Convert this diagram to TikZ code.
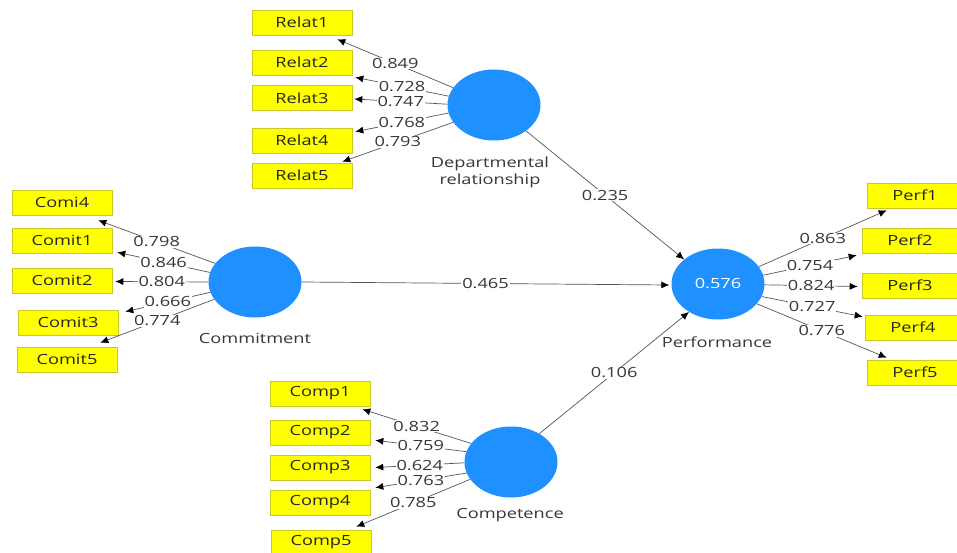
\documentclass[tikz,border=0pt]{standalone}
\usepackage{fontspec}
\setmainfont[FakeStretch=1.3]{Open Sans}
\usetikzlibrary{shapes.geometric,arrows.meta}
\definecolor{lvblue}{RGB}{30,144,255}
\definecolor{indyellow}{RGB}{255,255,0}
\definecolor{indborder}{RGB}{200,200,40}
\definecolor{txt}{RGB}{55,55,55}
\definecolor{lin}{RGB}{85,85,85}
\begin{document}
\begin{tikzpicture}[x=1pt,y=-1pt,
  indbox/.style={rectangle,fill=indyellow,draw=indborder,line width=0.6pt,minimum width=100pt,minimum height=25pt,inner sep=0pt,font=\fontsize{14}{16}\selectfont,text=black!85},
  latent/.style={ellipse,fill=lvblue,draw=none,minimum width=93pt,minimum height=71pt,inner sep=0pt,font=\fontsize{14}{16}\selectfont,text=white},
  lvlabel/.style={font=\fontsize{14}{17}\selectfont,text=txt,align=center,inner sep=0pt},
  ldg/.style={fill=white,inner sep=0.8pt,font=\fontsize{14}{16}\selectfont,text=txt},
  arr/.style={draw=lin,line width=0.7pt,-{Latex[length=8pt,width=7pt,color=black]}}]
\useasboundingbox (0,0) rectangle (957,553);
\clip (0,0) rectangle (957,553);
\fill[white] (0,0) rectangle (957,553);

% latent variables
\node[latent] (dr) at (494,105) {};
\node[latent] (cm) at (255,282) {};
\node[latent] (cp) at (511,462) {};
\node[latent] (pf) at (718,284) {0.576};

\node[lvlabel] (drl) at (490,172) {Departmental\\relationship};
\node[lvlabel] (cml) at (255,338) {Commitment};
\node[lvlabel] (cpl) at (510,515) {Competence};
\node[lvlabel] (pfl) at (717,342) {Performance};

% indicators
\node[indbox] (r1) at (302,22.5) {Relat1};
\node[indbox] (r2) at (302,62.5) {Relat2};
\node[indbox] (r3) at (302,98) {Relat3};
\node[indbox] (r4) at (302,140.5) {Relat4};
\node[indbox] (r5) at (302,175.5) {Relat5};

\node[indbox] (c4) at (62,202.5) {Comi4};
\node[indbox] (c1) at (62,240.5) {Comit1};
\node[indbox] (c2) at (62,280.5) {Comit2};
\node[indbox] (c3) at (68,322.5) {Comit3};
\node[indbox] (c5) at (67,359.5) {Comit5};

\node[indbox] (p1) at (320,393.5) {Comp1};
\node[indbox] (p2) at (320,432.5) {Comp2};
\node[indbox] (p3) at (320,467.5) {Comp3};
\node[indbox] (p4) at (320,502.5) {Comp4};
\node[indbox] (p5) at (321,542.5) {Comp5};

\node[indbox,minimum width=96pt] (f1) at (915,195.5) {Perf1};
\node[indbox,minimum width=96pt] (f2) at (910,240.5) {Perf2};
\node[indbox,minimum width=96pt] (f3) at (910,285.5) {Perf3};
\node[indbox,minimum width=96pt] (f4) at (913,327.5) {Perf4};
\node[indbox,minimum width=96pt] (f5) at (915,372.5) {Perf5};

% outer loadings: Departmental relationship
\draw[arr] (dr.157) -- node[ldg]{0.849} ([shift={(-15,4)}]r1.south east);
\draw[arr] (dr.169) -- node[ldg]{0.728} ([shift={(3,2)}]r2.south east);
\draw[arr] (dr.179) -- node[ldg]{0.747} ([shift={(2,1)}]r3.east);
\draw[arr] (dr.190) -- node[ldg]{0.768} ([shift={(3,4)}]r4.north east);
\draw[arr] (dr.203) -- node[ldg]{0.793} ([shift={(-10,-1)}]r5.north east);

% Commitment
\draw[arr] (cm.155) -- node[ldg]{0.798} ([shift={(-14,5)}]c4.south east);
\draw[arr] (cm.168) -- node[ldg]{0.846} ([shift={(5,-1)}]c1.south east);
\draw[arr] (cm.180) -- node[ldg]{0.804} ([shift={(3,1)}]c2.east);
\draw[arr] (cm.193) -- node[ldg]{0.666} ([shift={(7,2)}]c3.north east);
\draw[arr] (cm.203) -- node[ldg]{0.774} ([shift={(-17,-4)}]c5.north east);

% Competence
\draw[arr] (cp.155) -- node[ldg]{0.832} ([shift={(-8,3)}]p1.south east);
\draw[arr] (cp.167) -- node[ldg]{0.759} ([shift={(5,-5)}]p2.south east);
\draw[arr] (cp.181) -- node[ldg]{0.624} ([shift={(5,0)}]p3.east);
\draw[arr] (cp.194) -- node[ldg]{0.763} ([shift={(5,-2)}]p4.north east);
\draw[arr] (cp.203) -- node[ldg]{0.785} ([shift={(-15,-3)}]p5.north east);

% Performance
\draw[arr] (pf.23) -- node[ldg]{0.863} ([shift={(20,2)}]f1.south west);
\draw[arr] (pf.11) -- node[ldg]{0.754} ([shift={(-5,2)}]f2.south west);
\draw[arr] (pf.-1) -- node[ldg]{0.824} ([shift={(-4,1)}]f3.west);
\draw[arr] (pf.-16) -- node[ldg]{0.727} ([shift={(-2,2)}]f4.north west);
\draw[arr] (pf.-27) -- node[ldg]{0.776} ([shift={(20,-2)}]f5.north west);

% structural paths
\draw[arr] (dr.-39) -- node[ldg]{0.235} (pf.144);
\draw[arr] (cm.east) -- node[ldg]{0.465} ([shift={(-2,1)}]pf.west);
\draw[arr] (cp.45) -- node[ldg]{0.106} (pf.224);
\end{tikzpicture}
\end{document}
